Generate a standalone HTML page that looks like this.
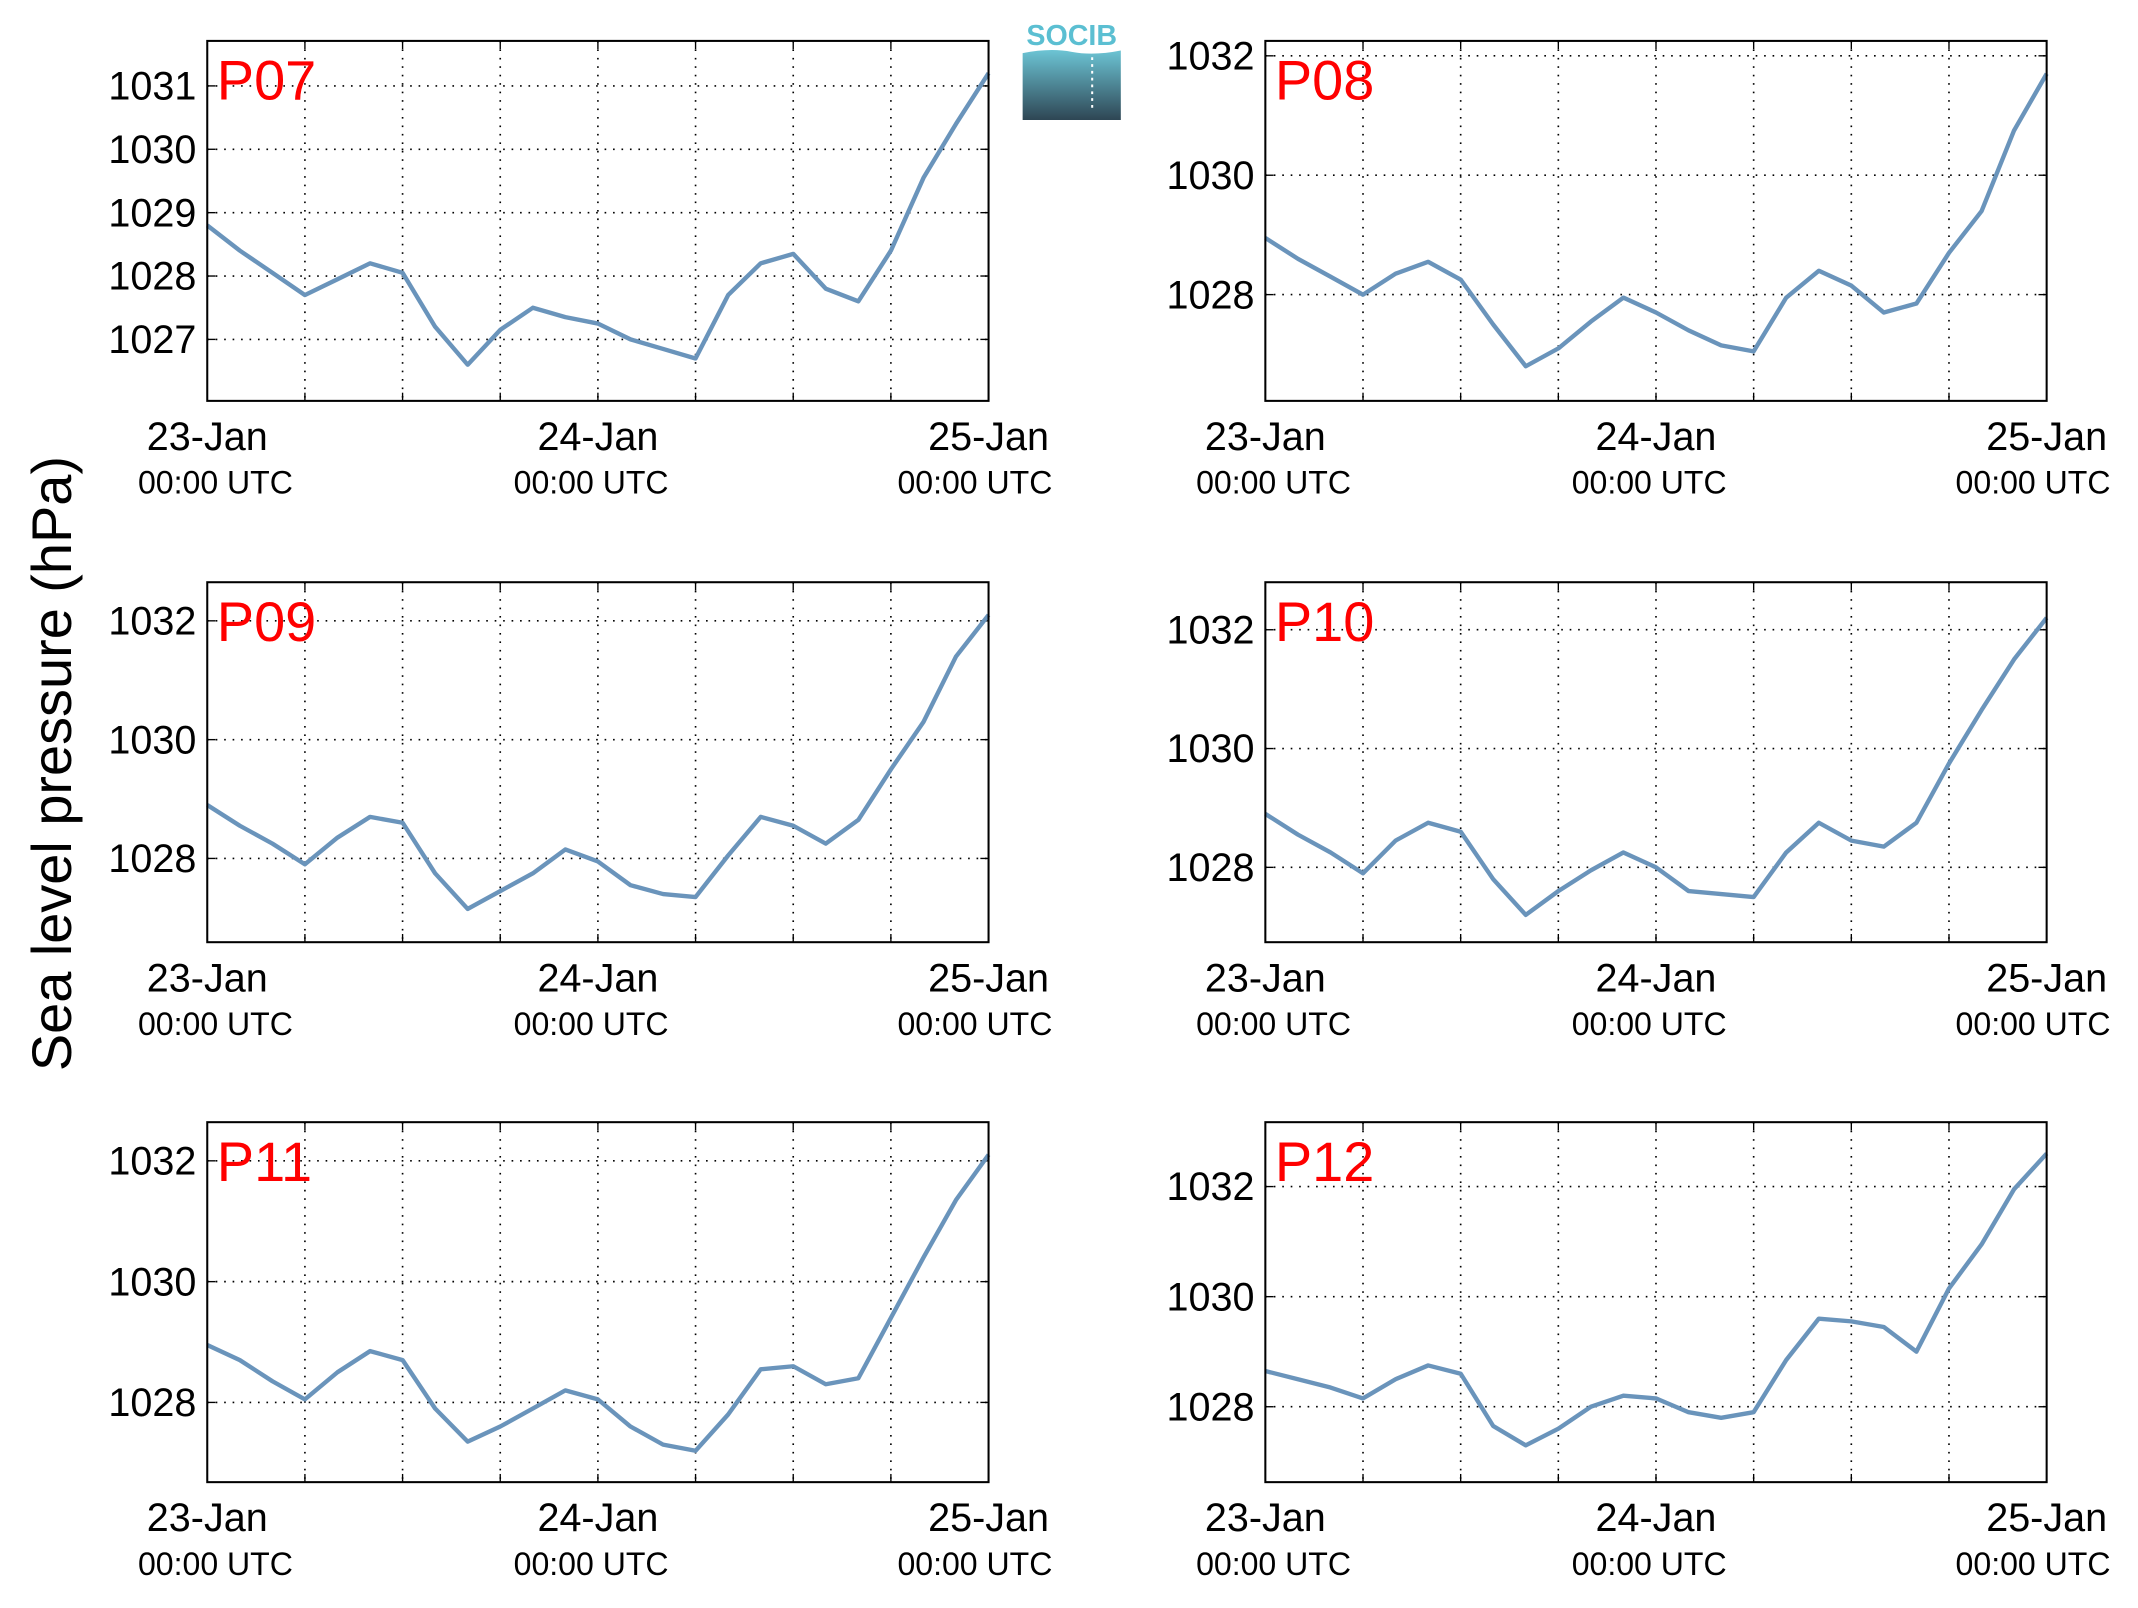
<!DOCTYPE html>
<html><head><meta charset="utf-8"><style>
html,body{margin:0;padding:0;background:#fff;}
svg{display:block;font-family:"Liberation Sans",sans-serif;}
</style></head><body>
<svg id="fig" width="2138" height="1608" viewBox="0 0 1568 1179.3" preserveAspectRatio="none" xmlns="http://www.w3.org/2000/svg">
<defs><linearGradient id="lg" x1="0" y1="0" x2="0" y2="1"><stop offset="0" stop-color="#6cc4d4"/><stop offset="1" stop-color="#2e4654"/></linearGradient></defs>
<g>
<text x="786" y="33" font-size="21" fill="#5bbfd2" text-anchor="middle" font-weight="bold">SOCIB</text>
<path d="M750 39 Q770 35 786 38 T822 37 L822 88 L750 88 Z" fill="url(#lg)"/>
<line x1="801" y1="42" x2="801" y2="80" stroke="#fff" stroke-width="1.5" stroke-dasharray="2,3"/>
</g>
<text transform="translate(52,560) rotate(-90)" font-size="41" text-anchor="middle">Sea level pressure (hPa)</text>
</svg>
<script>
const panelNames=["P07","P08","P09","P10","P11","P12"];
const hoursX=[0,2,4,6,8,10,12,14,16,18,20,22,24,26,28,30,32,34,36,38,40,42,44,46,48];
const xTickDays=["23-Jan","24-Jan","25-Jan"];
const sP07=[1028.8,1028.4,1028.05,1027.7,1027.95,1028.2,1028.05,1027.2,1026.6,1027.15,1027.5,1027.35,1027.25,1027.0,1026.85,1026.7,1027.7,1028.2,1028.35,1027.8,1027.6,1028.4,1029.55,1030.4,1031.2];
const sP08=[1028.95,1028.6,1028.3,1028.0,1028.35,1028.55,1028.25,1027.5,1026.8,1027.1,1027.55,1027.95,1027.7,1027.4,1027.15,1027.05,1027.95,1028.4,1028.15,1027.7,1027.85,1028.7,1029.4,1030.75,1031.7];
const sP09=[1028.9,1028.55,1028.25,1027.9,1028.35,1028.7,1028.6,1027.75,1027.15,1027.45,1027.75,1028.15,1027.95,1027.55,1027.4,1027.35,1028.05,1028.7,1028.55,1028.25,1028.65,1029.5,1030.3,1031.4,1032.1];
const sP10=[1028.9,1028.55,1028.25,1027.9,1028.45,1028.75,1028.6,1027.8,1027.2,1027.6,1027.95,1028.25,1028.0,1027.6,1027.55,1027.5,1028.25,1028.75,1028.45,1028.35,1028.75,1029.75,1030.65,1031.5,1032.2];
const sP11=[1028.95,1028.7,1028.35,1028.05,1028.5,1028.85,1028.7,1027.9,1027.35,1027.6,1027.9,1028.2,1028.05,1027.6,1027.3,1027.2,1027.8,1028.55,1028.6,1028.3,1028.4,1029.4,1030.4,1031.35,1032.1];
const sP12=[1028.65,1028.5,1028.35,1028.15,1028.5,1028.75,1028.6,1027.65,1027.3,1027.6,1028.0,1028.2,1028.15,1027.9,1027.8,1027.9,1028.85,1029.6,1029.55,1029.45,1029.0,1030.15,1030.95,1031.95,1032.6];
const yMin=[1026.03,1026.22,1026.59,1026.74,1026.68,1026.63];
const yMax=[1031.71,1032.25,1032.65,1032.8,1032.64,1033.17];
const yTicksA=[1027,1028,1029,1030,1031];
const yTicksB=[1028,1030,1032];
const series=[sP07,sP08,sP09,sP10,sP11,sP12];
const ticksets=[yTicksA,yTicksB,yTicksB,yTicksB,yTicksB,yTicksB];
const NS="http://www.w3.org/2000/svg";
const svg=document.getElementById("fig");
function mk(t,a,p){const e=document.createElementNS(NS,t);for(const k in a)e.setAttribute(k,a[k]);(p||svg).appendChild(e);return e;}
const lefts=[152,928],tops=[30,427,823],W=573,H=264;
const utcOff=[6,-5,-10];
for(let i=0;i<6;i++){
  const x0=lefts[i%2],y0=tops[Math.floor(i/2)];
  const g=mk("g",{});
  
  
  const xs=h=>x0+h/48*W;
  const ys=v=>y0+H-(v-yMin[i])/(yMax[i]-yMin[i])*H;
  for(let h=6;h<48;h+=6){
    mk("line",{x1:xs(h),x2:xs(h),y1:y0,y2:y0+H,stroke:"#000","stroke-width":1.2,"stroke-dasharray":"1.2,5"},g);
    mk("line",{x1:xs(h),x2:xs(h),y1:y0+H,y2:y0+H-6,stroke:"#000","stroke-width":1},g);
    mk("line",{x1:xs(h),x2:xs(h),y1:y0,y2:y0+6,stroke:"#000","stroke-width":1},g);
  }
  ticksets[i].forEach(v=>{
    const y=ys(v);
    mk("line",{x1:x0,x2:x0+W,y1:y,y2:y,stroke:"#000","stroke-width":1.2,"stroke-dasharray":"1.2,5"},g);
    mk("line",{x1:x0,x2:x0+6,y1:y,y2:y,stroke:"#000"},g);
    mk("line",{x1:x0+W,x2:x0+W-6,y1:y,y2:y,stroke:"#000"},g);
    const t=mk("text",{x:x0-8,y:y+10,"font-size":29,"text-anchor":"end"},g);t.textContent=v;
    
    
  });
  const pts=hoursX.map((h,k)=>xs(h).toFixed(1)+","+ys(series[i][k]).toFixed(1)).join(" ");
  const pl=mk("polyline",{points:pts,fill:"none",stroke:"#6a94bb","stroke-width":3.2,"stroke-linejoin":"round"},g);
  
  
  mk("rect",{x:x0,y:y0,width:W,height:H,fill:"none",stroke:"#000","stroke-width":1.5},g);
  const lb=mk("text",{x:x0+7,y:y0+43,"font-size":41,fill:"#ff0000"},g);lb.textContent=panelNames[i];
  
  
  xTickDays.forEach((d,k)=>{
    const x=xs(k*24);
    const a=mk("text",{x:x,y:y0+H+36,"font-size":29,"text-anchor":"middle"},g);a.textContent=d;
    
    
    const b=mk("text",{x:x+utcOff[k],y:y0+H+68,"font-size":23.5,"text-anchor":"middle"},g);b.textContent="00:00 UTC";
    
    
  });
}
</script>
</body></html>
